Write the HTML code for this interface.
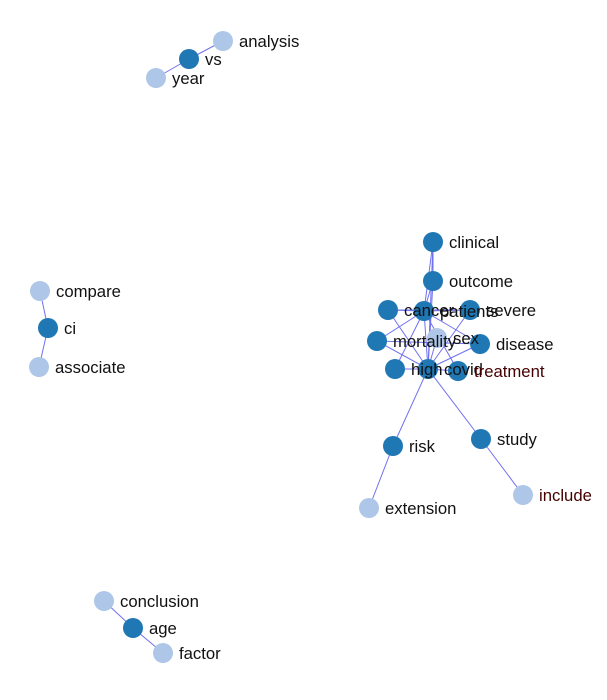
<!DOCTYPE html>
<html><head><meta charset="utf-8"><style>
body{margin:0;background:#fff;width:607px;height:695px;overflow:hidden}
svg text{font-family:"Liberation Sans",Arial,sans-serif;font-size:16.7px;fill:#111}
</style></head><body>
<svg id="g" width="607" height="695"></svg>
<script>
const nodeNames=["analysis","vs","year","compare","ci","associate","clinical","outcome","cancer","patients","severe","mortality","sex","disease","high","covid","treatment","risk","study","extension","include","conclusion","age","factor"];
const nodeX=[223,189,156,40,48,39,433,433,388,424,470,377,437,480,395,428,458,393,481,369,523,104,133,163];
const nodeY=[41,59,78,291,328,367,242,281,310,311,310,341,338,344,369,369,371,446,439,508,495,601,628,653];
const nodeGroup=[0,1,0,0,1,0,1,1,1,1,1,1,0,1,1,1,1,1,1,0,0,0,1,0];
const edgeSrc=["vs","vs","ci","ci","clinical","outcome","covid","covid","covid","covid","covid","covid","covid","covid","covid","covid","covid","covid","patients","patients","patients","patients","patients","patients","patients","risk","study","age","age","cancer","mortality"];
const edgeDst=["analysis","year","compare","associate","outcome","patients","clinical","outcome","cancer","patients","severe","mortality","sex","disease","high","treatment","risk","study","cancer","severe","mortality","high","disease","treatment","clinical","extension","include","conclusion","factor","severe","disease"];
const svg=document.getElementById('g');const NS="http://www.w3.org/2000/svg";
const idx=n=>nodeNames.indexOf(n);
for(let i=0;i<edgeSrc.length;i++){const a=idx(edgeSrc[i]),b=idx(edgeDst[i]);
const l=document.createElementNS(NS,'line');


l.setAttribute('x1',nodeX[a]);l.setAttribute('y1',nodeY[a]);l.setAttribute('x2',nodeX[b]);l.setAttribute('y2',nodeY[b]);
l.setAttribute('stroke','#7070f0');l.setAttribute('stroke-width','1');svg.appendChild(l);}
for(let i=0;i<nodeNames.length;i++){
const c=document.createElementNS(NS,'circle');


c.setAttribute('cx',nodeX[i]);c.setAttribute('cy',nodeY[i]);c.setAttribute('r',10);
c.setAttribute('fill',nodeGroup[i]?'#1f77b4':'#aec7e8');svg.appendChild(c);}
for(let i=0;i<nodeNames.length;i++){
const t=document.createElementNS(NS,'text');


t.setAttribute('x',nodeX[i]+16);t.setAttribute('y',nodeY[i]+6);
if(nodeNames[i]==='include'||nodeNames[i]==='treatment')t.setAttribute('style','fill:#400');
t.textContent=nodeNames[i];svg.appendChild(t);}
</script>
</body></html>
